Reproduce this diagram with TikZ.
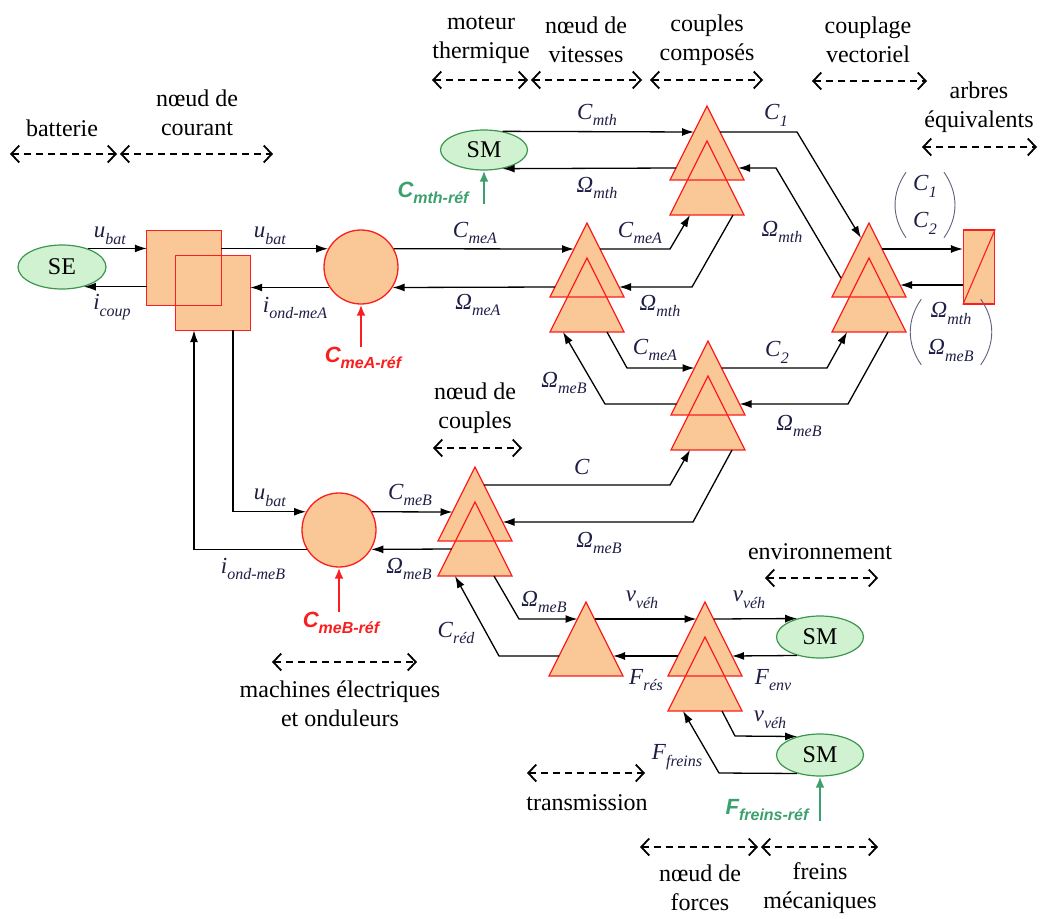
\documentclass[tikz,border=0pt]{standalone}
\usepackage{fontspec}
\setmainfont{Liberation Serif}
\newfontfamily\refsans{Liberation Sans}
\usetikzlibrary{arrows.meta,shapes.geometric,calc,positioning}

\definecolor{peach}{RGB}{250,200,150}
\definecolor{emrred}{RGB}{250,30,30}
\definecolor{srcfill}{RGB}{208,242,208}
\definecolor{srcline}{RGB}{60,150,80}
\definecolor{refgreen}{RGB}{60,160,110}
\definecolor{sigtext}{RGB}{30,30,70}

\newcommand\sg[2]{\textit{#1}\raisebox{-0.3em}{\fontsize{16}{16}\selectfont\textit{#2}}}
\newcommand\rf[2]{{\refsans\bfseries\itshape #1\raisebox{-0.3em}{\fontsize{16}{16}\selectfont #2}}}
% coupling element: two overlapping triangles, apex of the upper one at (#2,#3)
\newcommand\tripair[3]{%
  \coordinate (#1) at (#2,#3);
  \coordinate (#1-b) at ($(#1)+(0,35)$);
  \fill[trifill] (#1) -- ++(-37,74) -- ++(74,0) -- cycle;
  \fill[trifill] (#1-b) -- ++(-37,74) -- ++(74,0) -- cycle;
  \draw[tribord] (#1) -- ++(-37,74) -- ++(74,0) -- cycle;
  \draw[tribord] (#1-b) -- ++(-37,74) -- ++(74,0) -- cycle;}
\newcommand\trione[3]{%
  \coordinate (#1) at (#2,#3);
  \filldraw[trifill,tribord] (#1) -- ++(-37,74) -- ++(74,0) -- cycle;}

\begin{document}
\begin{tikzpicture}[x=1pt, y=-1pt,
    sig/.style={draw=black, line width=1.3pt, -{Latex[length=12pt,width=8pt]}},
    span/.style={draw=black, line width=1.8pt, dash pattern=on 7pt off 5pt,
      {Straight Barb[length=8pt,width=17pt]}-{Straight Barb[length=8pt,width=17pt]}},
    capt/.style={align=center, font=\fontsize{24}{29}\selectfont, inner sep=0pt},
    lbl/.style={font=\fontsize{23}{25}\selectfont, text=sigtext, inner sep=0pt},
    paren/.style={draw=sigtext!70, line width=0.9pt},
    src/.style={ellipse, draw=srcline, fill=srcfill, line width=1.2pt, inner sep=0pt,
      minimum width=87pt, minimum height=42pt, font=\fontsize{24}{24}\selectfont},
    acc/.style={circle, draw=emrred, fill=peach, line width=1.3pt, minimum size=74pt, inner sep=0pt},
    sqfill/.style={rectangle, fill=peach, minimum size=74pt, inner sep=0pt},
    trifill/.style={fill=peach},
    tribord/.style={draw=emrred, line width=1.3pt},
    refr/.style={text=emrred, inner sep=0pt, font=\fontsize{22}{24}\selectfont},
    refg/.style={text=refgreen, inner sep=0pt, font=\fontsize{22}{24}\selectfont},
    refarr/.style={line width=2.2pt, -{Latex[length=11pt,width=9pt]}}]

  \useasboundingbox (0,0) rectangle (1041,918);

  % captions
  \node[capt] (cbat) at (62,128) {batterie};
  \node[capt] (ccour) at (197,113) {nœud de\\courant};
  \node[capt] (cmth) at (481,40) {moteur\\thermique};
  \node[capt] (cvit) at (586,40) {nœud de\\vitesses};
  \node[capt] (ccc) at (707,40) {couples\\composés};
  \node[capt] (cvec) at (868,40) {couplage\\vectoriel};
  \node[capt] (carb) at (979,107) {arbres\\équivalents};
  \node[capt] (ccpl) at (475,408) {nœud de\\couples};
  \node[capt] (cenv) at (820,552) {environnement};
  \node[capt] (cmach) at (340,704) {machines électriques\\et onduleurs};
  \node[capt] (ctrans) at (587,803) {transmission};
  \node[capt] (cfor) at (700,888) {nœud de\\forces};
  \node[capt] (cfr) at (820,888) {freins\\mécaniques};

  \draw[span] (10,154) -- (117,154);
  \draw[span] (120,154) -- (273,154);
  \draw[span] (432,80) -- (528,80);
  \draw[span] (531,80) -- (642,80);
  \draw[span] (650,80) -- (763,80);
  \draw[span] (812,81) -- (927,81);
  \draw[span] (922,147) -- (1037,147);
  \draw[span] (433,448) -- (522,448);
  \draw[span] (765,578) -- (878,578);
  \draw[span] (272,662) -- (417,662);
  \draw[span] (527,773) -- (645,773);
  \draw[span] (640,847) -- (758,847);
  \draw[span] (761,847) -- (878,847);

  % sources
  \node[src, minimum width=88pt, minimum height=44pt] (SE) at (62,267) {SE};
  \node[src, minimum height=40pt] (SMm) at (484,150) {SM};
  \node[src] (SMenv) at (820,637) {SM};
  \node[src] (SMfr) at (820,755) {SM};

  % current node
  \node[sqfill] (cour1) at (184,268) {};
  \node[sqfill] (cour2) at (213,293) {};
  \draw[tribord] (cour1.south west) rectangle (cour1.north east);
  \draw[tribord] (cour2.south west) rectangle (cour2.north east);

  % electric machines
  \node[acc] (cA) at (361,267) {};
  \node[acc] (cB) at (339,530) {};

  % coupling elements
  \tripair{tvA}{587}{223}
  \tripair{tcc1}{707}{106}
  \tripair{tvc}{869}{223}
  \tripair{tcc2}{708}{341}
  \tripair{tnc}{475}{467}
  \tripair{tnf}{705}{602}
  \trione{ttr}{586}{602}

  % equivalent shafts
  \node[rectangle, fill=peach, draw=emrred, line width=1.3pt, minimum width=31pt,
    minimum height=74pt, inner sep=0pt] (arb) at (979,267) {};
  \draw[emrred, line width=1.1pt] (arb.south west) -- (arb.north east);

  % battery and current node
  \draw[sig] (SE.36) -- (SE.36 -| cour1.west);
  \draw[sig] (SE.-42 -| cour1.west) -- (SE.-42);
  \draw[sig] (cA.151 -| cour1.east) -- (cA.151);
  \draw[sig] (cA.-147) -- (cA.-147 -| cour2.east);
  \draw[sig] ($(cour2.south)+(20,0)$) |- (cB.151);
  \draw[sig] (cB.-149) -| ($(cour2.south)+(-19,0)$);

  % machine A and speed node
  \draw[sig] (cA.29) -- ($(tvA)+(-13,26)$);
  \draw[sig] ($(tvA)+(-32,64)$) -- (cA.-33);
  \draw[sig] ($(tvA)+(13,26)$) -- ($(tvA)+(83,26)$) -- ($(tcc1-b)+(-17,74)$);
  \draw[sig] ($(tcc1-b)+(26,74)$) -- ($(tvA)+(105,64)$) -- ($(tvA)+(32,64)$);
  \draw[sig] ($(tvA-b)+(20,74)$) -- ($(tcc2)+(-81,27)$) -- ($(tcc2)+(-13.5,27)$);
  \draw[sig] ($(tcc2)+(-31.5,63)$) -- ($(tcc2)+(-103,63)$) -- ($(tvA-b)+(-24,74)$);

  % engine
  \draw[sig] (SMm.45) -- ($(tcc1)+(-13,26)$);
  \draw[sig] ($(tcc1)+(-31,62)$) -- (SMm.-45);
  \draw[sig] ($(tcc1)+(13,26)$) -- ++(77,0) -- ($(tvc)+(-8,15)$);
  \draw[sig] ($(tvc)+(-28,55)$) -- ($(tcc1)+(69,62)$) -- ($(tcc1)+(31,62)$);

  % vector coupling
  \draw[sig] ($(tcc2)+(13.5,27)$) -- ($(tcc2)+(119,27)$) -- ($(tvc-b)+(-22,74)$);
  \draw[sig] ($(tvc-b)+(19,74)$) -- ($(tcc2)+(140,63)$) -- ($(tcc2)+(31.5,63)$);
  \draw[sig] ($(tvc)+(13,26)$) -- ($(arb.west)+(0,-18)$);
  \draw[sig] ($(arb.west)+(0,18)$) -- ($(tvc)+(31,62)$);

  % machine B and torque node
  \draw[sig] (cB.29) -- ($(tnc)+(-22.5,45)$);
  \draw[sig] ($(tnc-b)+(-23.5,47)$) -- (cB.-31);
  \draw[sig] ($(tnc)+(9,18)$) -- ($(tnc)+(195,18)$) -- ($(tcc2-b)+(-18,74)$);
  \draw[sig] ($(tcc2-b)+(24,74)$) -- ($(tnc)+(218,55)$) -- ($(tnc)+(27.5,55)$);

  % transmission, forces, brakes
  \draw[sig] ($(tnc-b)+(19,74)$) -- ($(ttr)+(-67,17)$) -- ($(ttr)+(-8.5,17)$);
  \draw[sig] ($(ttr)+(-27,54)$) -- ($(ttr)+(-87,54)$) -- ($(tnc-b)+(-20,74)$);
  \draw[sig] ($(ttr)+(8.5,17)$) -- ($(tnf)+(-8.5,17)$);
  \draw[sig] ($(tnf)+(-27,54)$) -- ($(ttr)+(27,54)$);
  \draw[sig] ($(tnf)+(8.5,17)$) -- (SMenv.141);
  \draw[sig] (SMenv.-141) -- ($(tnf)+(27,54)$);
  \draw[sig] ($(tnf-b)+(17,74)$) -- ($(tnf-b)+(30,99)$) -- (SMfr.141);
  \draw[sig] (SMfr.-141) -- ($(tnf-b)+(14,136)$) -- ($(tnf-b)+(-22,74)$);

  % references
  \node[refr] (rA) at (363,358) {\rf{C}{meA-réf}};
  \node[refr] (rB) at (341,623) {\rf{C}{meB-réf}};
  \node[refg] (rM) at (433,193) {\rf{C}{mth-réf}};
  \node[refg] (rF) at (767,810) {\rf{F}{freins-réf}};
  \draw[refarr, emrred] (rA.north -| cA.south) -- (cA.south);
  \draw[refarr, emrred] (rB.north -| cB.south) -- (cB.south);
  \draw[refarr, refgreen] (SMm.south |- rM.south) -- (SMm.south);
  \draw[refarr, refgreen] (SMfr.south |- rF.south) -- (SMfr.south);

  % variables
  \node[lbl] (lu1) at (110,236) {\sg{u}{bat}};
  \node[lbl] (li1) at (112,307) {\sg{i}{coup}};
  \node[lbl] (lu2) at (270,236) {\sg{u}{bat}};
  \node[lbl] (li2) at (295,308) {\sg{i}{ond-meA}};
  \node[lbl] (lCA1) at (475,233) {\sg{C}{meA}};
  \node[lbl] (lWA) at (478,305) {\sg{Ω}{meA}};
  \node[lbl] (lCm) at (597,115) {\sg{C}{mth}};
  \node[lbl] (lWm1) at (597,188) {\sg{Ω}{mth}};
  \node[lbl] (lC1) at (776,115) {\sg{C}{1}};
  \node[lbl] (lWm2) at (782,232) {\sg{Ω}{mth}};
  \node[lbl] (lCA2) at (640,233) {\sg{C}{meA}};
  \node[lbl] (lWm3) at (660,306) {\sg{Ω}{mth}};
  \node[lbl] (lCA3) at (655,350) {\sg{C}{meA}};
  \node[lbl] (lWB1) at (564,383) {\sg{Ω}{meB}};
  \node[lbl] (lC2) at (777,352) {\sg{C}{2}};
  \node[lbl] (lWB2) at (799,426) {\sg{Ω}{meB}};
  \node[lbl] (lC) at (582,467) {\textit{C}};
  \node[lbl] (lWB3) at (599,543) {\sg{Ω}{meB}};
  \node[lbl] (lCB) at (410,495) {\sg{C}{meB}};
  \node[lbl] (lWB4) at (409,569) {\sg{Ω}{meB}};
  \node[lbl] (lu3) at (270,498) {\sg{u}{bat}};
  \node[lbl] (li3) at (253,569) {\sg{i}{ond-meB}};
  \node[lbl] (lWB5) at (544,602) {\sg{Ω}{meB}};
  \node[lbl] (lCr) at (456,633) {\sg{C}{réd}};
  \node[lbl] (lv1) at (642,600) {\sg{v}{véh}};
  \node[lbl] (lv2) at (749,600) {\sg{v}{véh}};
  \node[lbl] (lFr) at (646,680) {\sg{F}{rés}};
  \node[lbl] (lFe) at (773,680) {\sg{F}{env}};
  \node[lbl] (lv3) at (770,720) {\sg{v}{véh}};
  \node[lbl] (lFf) at (677,757) {\sg{F}{freins}};

  % column vectors
  \node[lbl, align=center, inner sep=3pt] (vC) at (925,205) {\sg{C}{1}\\[12pt]\sg{C}{2}};
  \node[lbl, align=center, inner sep=3pt] (vW) at (951,332) {\sg{Ω}{mth}\\[12pt]\sg{Ω}{meB}};
  \draw[paren] ([xshift=-4pt]vC.north west) to[bend right=35] ([xshift=-4pt]vC.south west);
  \draw[paren] ([xshift=4pt]vC.north east) to[bend left=35] ([xshift=4pt]vC.south east);
  \draw[paren] ([xshift=-4pt]vW.north west) to[bend right=35] ([xshift=-4pt]vW.south west);
  \draw[paren] ([xshift=4pt]vW.north east) to[bend left=35] ([xshift=4pt]vW.south east);
\end{tikzpicture}
\end{document}
